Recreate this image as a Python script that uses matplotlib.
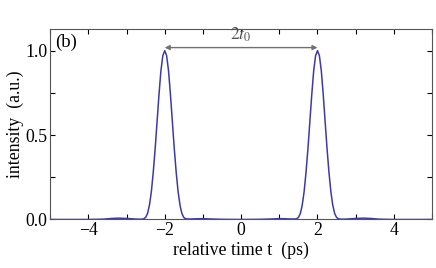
import matplotlib
matplotlib.use("Agg")
import matplotlib.pyplot as plt
from matplotlib.ticker import MultipleLocator

plt.rcParams['font.family'] = ['Liberation Serif', 'DejaVu Serif']
plt.rcParams['mathtext.fontset'] = 'stix'

# relative time (ps) and intensity
t = [-5.0, -4.0, -3.6, -3.4, -3.2, -3.0, -2.8, -2.7, -2.6, -2.55,
     -2.5, -2.45, -2.4, -2.35, -2.3, -2.25, -2.2, -2.15, -2.1, -2.05,
     -2.0, -1.95, -1.9, -1.85, -1.8, -1.75, -1.7, -1.65, -1.6, -1.55,
     -1.5, -1.45, -1.4, -1.3, -1.2, -1.0, -0.8, -0.5, 0.0, 0.5,
     0.8, 1.0, 1.2, 1.3, 1.4, 1.45, 1.5, 1.55, 1.6, 1.65,
     1.7, 1.75, 1.8, 1.85, 1.9, 1.95, 2.0, 2.05, 2.1, 2.15,
     2.2, 2.25, 2.3, 2.35, 2.4, 2.45, 2.5, 2.55, 2.6, 2.7,
     2.8, 3.0, 3.2, 3.4, 3.6, 4.0, 5.0]
intensity = [0.0, 0.0, 0.002, 0.006, 0.008, 0.006, 0.003, 0.002, 0.002, 0.004,
             0.012, 0.035, 0.085, 0.165, 0.28, 0.42, 0.58, 0.74, 0.88, 0.97,
             1.0, 0.97, 0.88, 0.74, 0.58, 0.42, 0.28, 0.165, 0.085, 0.035,
             0.012, 0.004, 0.003, 0.003, 0.004, 0.005, 0.003, 0.001, 0.0, 0.001,
             0.003, 0.005, 0.004, 0.003, 0.003, 0.004, 0.012, 0.035, 0.085, 0.165,
             0.28, 0.42, 0.58, 0.74, 0.88, 0.97, 1.0, 0.97, 0.88, 0.74,
             0.58, 0.42, 0.28, 0.165, 0.085, 0.035, 0.012, 0.004, 0.002, 0.002,
             0.003, 0.006, 0.008, 0.006, 0.002, 0.0, 0.0]

peak_left = -2.0
peak_right = 2.0

fig = plt.figure(figsize=(4.36, 2.68), dpi=100)
ax = fig.add_axes([0.115, 0.181, 0.876, 0.712])

ax.plot(t, intensity, color='#3b3ba6', lw=1.1)

# double arrow between the two pulses
ax.annotate('', xy=(peak_left, 1.018), xytext=(peak_right, 1.018),
            arrowprops=dict(arrowstyle='<|-|>', color='#707070', lw=1.0,
                            mutation_scale=7, shrinkA=0, shrinkB=0))
ax.text(0, 1.065, r'$2t_0$', ha='center', va='baseline', fontsize=12.5, color='#505050')
ax.text(0.012, 0.975, '(b)', transform=ax.transAxes, ha='left', va='top', fontsize=13.5)

ax.set_xlim(-5, 5)
ax.set_ylim(0, 1.13)
ax.xaxis.set_major_locator(MultipleLocator(2))
ax.xaxis.set_minor_locator(MultipleLocator(1))
ax.yaxis.set_major_locator(MultipleLocator(0.5))
ax.yaxis.set_minor_locator(MultipleLocator(0.25))
ax.tick_params(which='both', direction='in', top=True, right=True, labelsize=12.8,
               width=0.8, pad=2)
ax.tick_params(which='major', length=3.5)
ax.tick_params(which='minor', length=3.5)
for s in ax.spines.values():
    s.set_color('#555555')
    s.set_linewidth(0.8)

ax.set_xlabel('relative time t  (ps)', fontsize=12.8, labelpad=2)
ax.set_ylabel('intensity  (a.u.)', fontsize=12.8, labelpad=1)

fig.savefig('out.png', dpi=100)
